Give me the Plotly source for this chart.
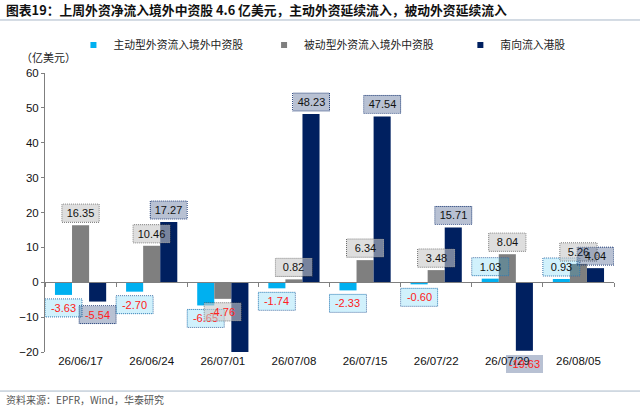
import plotly.graph_objects as go

# ── 数据 ────────────────────────────────────────────────────────────────
dates = ["26/06/17", "26/06/24", "26/07/01", "26/07/08",
         "26/07/15", "26/07/22", "26/07/29", "26/08/05"]
active = [-3.63, -2.70, -6.65, -1.74, -2.33, -0.60, 1.03, 0.93]
passive = [16.35, 10.46, -4.76, 0.82, 6.34, 3.48, 8.04, 5.26]
south = [-5.54, 17.27, -24.0, 48.23, 47.54, 15.71, -19.63, 4.04]

names = ["主动型外资流入境外中资股", "被动型外资流入境外中资股", "南向流入港股"]

# ── 样式 ────────────────────────────────────────────────────────────────
BAR_COLORS = ["#00B0F0", "#7F7F7F", "#002060"]
BOX_FILLS = ["rgba(0,176,240,0.18)", "rgba(200,200,200,0.6)", "rgba(0,32,96,0.28)"]
BOX_LINES = ["#3A6EA5", "#505050", "#2F4A80"]
LEGEND_X = [0.05, 0.385, 0.73]
FONT = "Liberation Sans, Arial, Noto Sans CJK SC"
CJK = "Noto Sans CJK SC, Liberation Sans"

Y_MIN, Y_MAX = -20, 60
BARGAP = 0.28
bar_w = (1 - BARGAP) / 3

fig = go.Figure()
series = [active, passive, south]
xs = list(range(len(dates)))
legend_ids = ["legend", "legend2", "legend3"]

for k, vals in enumerate(series):
    fig.add_trace(go.Bar(
        x=xs, y=vals, name=names[k],
        marker=dict(color=BAR_COLORS[k], line=dict(width=0)),
        showlegend=False,
    ))
    # voce di legenda con quadratino piccolo
    fig.add_trace(go.Scatter(
        x=[None], y=[None], mode="markers", name=names[k], legend=legend_ids[k],
        marker=dict(symbol="square", size=6, color=BAR_COLORS[k]),
    ))

# traccia vuota per far disegnare l'asse dello zero
fig.add_trace(go.Scatter(x=[None], y=[None], xaxis="x2", showlegend=False,
                         hoverinfo="skip"))

annotations = []
shapes = []
BOX_W, BOX_H = 37, 18
for k, vals in enumerate(series):
    for i, v in enumerate(vals):
        if v < Y_MIN or v > Y_MAX:
            continue  # etichetta fuori dall'area del grafico
        xc = i + (k - 1) * bar_w
        pos = v >= 0
        gap = 3 if pos else 4
        annotations.append(dict(
            x=xc, y=v, xref="x", yref="y",
            text=f"{v:.2f}", showarrow=False,
            yanchor="bottom" if pos else "top",
            yshift=gap if pos else -gap,
            width=BOX_W - 4, height=BOX_H - 4, borderpad=2,
            bgcolor=BOX_FILLS[k], borderwidth=0,
            font=dict(family=FONT, size=11,
                      color="#111111" if pos else "#FF2020"),
        ))
        y0, y1 = (gap, gap + BOX_H) if pos else (-gap, -gap - BOX_H)
        shapes.append(dict(
            type="rect", layer="above",
            xref="x", xsizemode="pixel", xanchor=xc, x0=-BOX_W / 2, x1=BOX_W / 2,
            yref="y", ysizemode="pixel", yanchor=v, y0=y0, y1=y1,
            line=dict(color=BOX_LINES[k], width=1, dash="1px,1px"),
        ))

# titolo, unità, fonte
annotations += [
    dict(text="<b>图表19：上周外资净流入境外中资股 4.6 亿美元，主动外资延续流入，被动外资延续流入</b>",
         xref="paper", yref="paper", x=-0.072, y=1.228, xanchor="left", yanchor="middle",
         showarrow=False, font=dict(family=CJK, size=12.8, color="#111111")),
    dict(text="（亿美元）", xref="paper", yref="paper", x=-0.045, y=1.057,
         xanchor="left", yanchor="middle", showarrow=False,
         font=dict(family=CJK, size=11, color="#222222")),
    dict(text="资料来源：EPFR，Wind，华泰研究", xref="paper", yref="paper",
         x=-0.072, y=-0.172, xanchor="left", yanchor="middle", showarrow=False,
         font=dict(family=CJK, size=10, color="#555555")),
]
shapes += [
    dict(type="line", xref="paper", yref="paper", x0=-0.08, x1=1.05, y0=1.19, y1=1.19,
         line=dict(color="#A8B8C8", width=1)),
    dict(type="line", xref="paper", yref="paper", x0=-0.08, x1=1.05, y0=-0.14, y1=-0.14,
         line=dict(color="#A8B8C8", width=1)),
]

legend_style = dict(orientation="h", y=1.1, xanchor="left", yanchor="middle",
                    font=dict(family=CJK, size=10.8, color="#222222"),
                    itemwidth=30, bgcolor="rgba(0,0,0,0)")

fig.update_layout(
    barmode="group", bargap=BARGAP, bargroupgap=0,
    width=640, height=408,
    margin=dict(l=45, r=26, t=73, b=56),
    paper_bgcolor="white", plot_bgcolor="white",
    font=dict(family=FONT, size=11, color="#111111"),
    xaxis=dict(
        range=[-0.5, 7.5], tickvals=xs, ticktext=dates,
        showgrid=False, zeroline=False, showline=False, ticks="",
        tickfont=dict(size=11.5),
    ),
    xaxis2=dict(
        overlaying="x", anchor="free", position=(0 - Y_MIN) / (Y_MAX - Y_MIN),
        range=[-0.5, 7.5], tickvals=[i + 0.5 for i in range(-1, len(dates))],
        showticklabels=False, ticks="outside", ticklen=4, tickcolor="#7F7F7F",
        showline=True, linecolor="#7F7F7F", linewidth=1, showgrid=False, zeroline=False,
    ),
    yaxis=dict(
        range=[Y_MIN, Y_MAX], dtick=10, showgrid=False, zeroline=False,
        showline=True, linecolor="#7F7F7F", linewidth=1,
        ticks="outside", ticklen=3, tickcolor="#7F7F7F",
        tickfont=dict(size=11.5),
    ),
    legend=dict(x=LEGEND_X[0], **legend_style),
    legend2=dict(x=LEGEND_X[1], **legend_style),
    legend3=dict(x=LEGEND_X[2], **legend_style),
    annotations=annotations,
    shapes=shapes,
)

fig.write_html("out.html", config={"displayModeBar": False},
               post_script="document.body.style.margin='0';")
